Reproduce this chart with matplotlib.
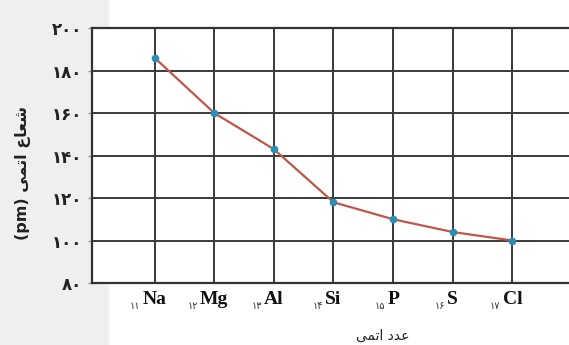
import matplotlib.pyplot as plt
from matplotlib.patches import Rectangle

# data
elements = ['Na', 'Mg', 'Al', 'Si', 'P', 'S', 'Cl']
atomic_numbers = ['۱۱', '۱۲', '۱۳', '۱۴', '۱۵', '۱۶', '۱۷']
radius_pm = [186, 160, 143, 118, 110, 104, 100]
y_ticks = [80, 100, 120, 140, 160, 180, 200]
y_tick_labels = ['۸۰', '۱۰۰', '۱۲۰', '۱۴۰', '۱۶۰', '۱۸۰', '۲۰۰']

# Persian labels written in visual (left-to-right) order with shaped glyphs
ylabel_fa = '(pm) ' + '\ufef0\ufee4\ufe97\ufe8d \ufec9\ufe8e\ufecc\ufeb7'   # شعاع اتمی (pm)
xlabel_fa = '\ufef0\ufee4\ufe97\ufe8d \ufea9\ufeaa\ufecb'                   # عدد اتمی

fig = plt.figure(figsize=(5.69, 3.45), dpi=100)
# light grey band on the left of the scanned page
fig.patches.append(Rectangle((0, 0), 0.19, 1, transform=fig.transFigure,
                             color='#efefef', zorder=-5))
ax = fig.add_axes([0.1617, 0.1797, 0.8383, 0.7391])
ax.set_facecolor('white')

x = list(range(len(elements)))
ax.plot(x, radius_pm, color='#c0564a', linewidth=1.6, zorder=3)
ax.plot(x, radius_pm, linestyle='none', marker='o', markersize=4.5,
        color='#2b8fb3', zorder=4)

ax.set_xlim(-1.05, 6.95)
ax.set_ylim(80, 200)
ax.set_xticks(x)
ax.set_yticks(y_ticks)
ax.set_yticklabels(y_tick_labels, fontsize=12, fontweight='bold',
                   family=['DejaVu Sans'], color='#222222')
ax.tick_params(axis='y', length=3, width=1, color='#999999', pad=4)
ax.tick_params(axis='x', length=0, labelbottom=False)
ax.grid(True, color='#3a3a3a', linewidth=1.4)
ax.set_axisbelow(True)
for side in ['left', 'bottom', 'top']:
    ax.spines[side].set_color('#333333')
    ax.spines[side].set_linewidth(1.6)
ax.spines['right'].set_visible(False)

# element labels with atomic number as left subscript
tr = ax.get_xaxis_transform()
for i, (sym, num) in enumerate(zip(elements, atomic_numbers)):
    t = ax.text(i, -0.03, sym, transform=tr, ha='center', va='top',
                fontsize=14, fontweight='bold', family='Liberation Serif',
                color='#111111')
    ax.annotate(num, xy=(0, 0), xycoords=t, xytext=(-1.5, -2.5),
                textcoords='offset points', ha='right', va='bottom',
                fontsize=7, family='DejaVu Sans', color='#333333')

fig.text(0.672, 0.005, xlabel_fa, ha='center', va='bottom', fontsize=10,
         family='DejaVu Sans', color='#222222')
fig.text(0.04, 0.5, ylabel_fa, ha='center', va='center', rotation=90,
         fontsize=11.5, fontweight='bold', family='DejaVu Sans', color='#222222')

fig.savefig('out.png', dpi=100)
